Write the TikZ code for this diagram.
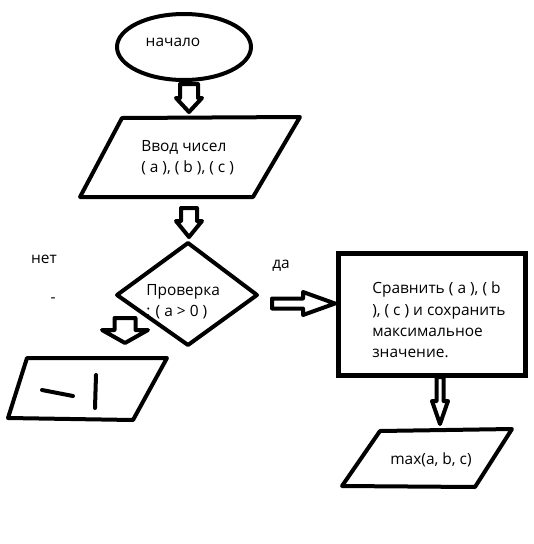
\documentclass[tikz,border=0pt]{standalone}
\usepackage{fontspec}
\setmainfont{Open Sans}
\usetikzlibrary{shapes.geometric}

\tikzset{
  outline/.style={draw=black, line width=3pt, line cap=round, line join=round},
  thickbox/.style={draw=black, line width=3.75pt, line join=miter},
  label/.style={inner sep=0pt, font=\fontsize{11.6}{16}\selectfont, text=black},
  block/.style={label, align=left, anchor=west},
  % hollow block arrow: length / shaft half-width / shaft length / head half-width
  pics/blockarrow/.style n args={4}{code={
    \draw[outline] (0,-#2) -- (#3,-#2) -- (#3,-#4) -- (#1,0)
      -- (#3,#4) -- (#3,#2) -- (0,#2) -- cycle;}}
}

\begin{document}
\begin{tikzpicture}[x=0.75pt, y=-0.75pt]
  \useasboundingbox (0,0) rectangle (534,544);

  % start terminal
  \draw[outline] (184,47) ellipse [x radius=67, y radius=33];
  \node[label] (start) at (173,42) {начало};

  % input of the three numbers
  \draw[outline] (122,118) -- (300,117) -- (253,197) -- (80,197) -- cycle;
  \node[block] (input) at (141,158) {Ввод чисел\\( a ), ( b ), ( c )};

  % condition
  \draw[outline] (188,243) -- (257,295) -- (188,345) -- (117,295) -- cycle;
  \node[block] (check) at (146,301.5) {Проверка\\: ( a > 0 )};

  % branch labels
  \node[label] (no) at (44,259) {нет};
  \node[label] (tick) at (53,300) {-};
  \node[label] (yes) at (281,266) {да};

  % "no" output
  \draw[outline] (27,358) -- (167,358) -- (133,420) -- (8,418) -- cycle;
  \draw[outline] (42,390) -- (73,396);
  \draw[outline] (96,375) -- (95,408);

  % processing step
  \draw[thickbox] (338,253) rectangle (525,375);
  \node[block] (process) at (372,320)
    {Сравнить ( a ), ( b\\), ( c ) и сохранить\\максимальное\\значение.};

  % result output
  \draw[outline] (380,431) -- (512,429) -- (475,487) -- (342,486) -- cycle;
  \node[label] (result) at (431,460) {max(a, b, c)};

  % block arrows
  \pic[rotate=-90] at (189,84) {blockarrow={28}{9}{14}{13}};
  \pic[rotate=-90] at (189,208) {blockarrow={29}{8}{13}{13}};
  \pic[rotate=-90] at (125,318) {blockarrow={25}{10.5}{12}{23}};
  \pic at (272,303.5) {blockarrow={63}{5}{31}{11.5}};
  \pic[rotate=-90] at (440,377) {blockarrow={47}{3.5}{24}{8}};
\end{tikzpicture}
\end{document}
